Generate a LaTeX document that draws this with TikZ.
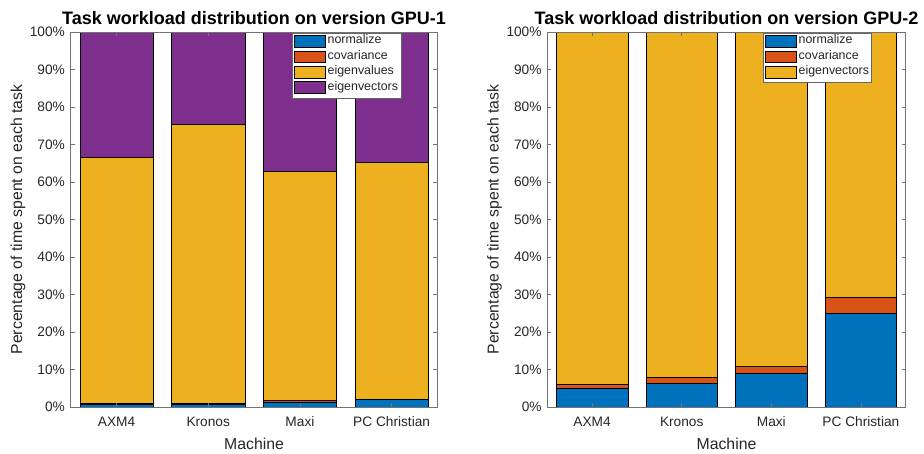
\documentclass[tikz,border=0pt]{standalone}
\usepackage{fontspec}
\setmainfont{Liberation Sans}
\definecolor{mblue}{rgb}{0,0.447,0.741}
\definecolor{morange}{rgb}{0.85,0.325,0.098}
\definecolor{myellow}{rgb}{0.929,0.694,0.125}
\definecolor{mpurple}{rgb}{0.494,0.184,0.556}
\definecolor{axgray}{rgb}{0.15,0.15,0.15}
\tikzset{
  bar/.style={draw=black,line width=0.5pt},
  axframe/.style={draw=black!55,line width=0.6pt},
  ticklab/.style={text=axgray,inner sep=0pt,font=\fontsize{13.7}{15}\selectfont},
  axlab/.style={text=axgray,inner sep=0pt,font=\fontsize{15.8}{17}\selectfont},
  plottitle/.style={text=black,inner sep=0pt,font=\fontsize{18}{20}\selectfont\bfseries},
  legbox/.style={draw=black!60,fill=white,line width=0.5pt},
  legtext/.style={text=axgray,inner sep=0pt,anchor=mid west,font=\fontsize{12.4}{14}\selectfont}
}
\begin{document}
\begin{tikzpicture}[x=1pt,y=-1pt]
\useasboundingbox (0,0) rectangle (924,453);

% GPU-1
\begin{scope}[shift={(24.85,407)},xscale=91.7,yscale=-3.75]
\foreach \i/\n/\c/\e in {1/0.7/0.9/66.5,2/0.7/0.9/75.4,3/1.2/1.7/63.0,4/2.0/2.2/65.3}{
  \draw[bar,fill=mblue] (\i-0.4,0) rectangle (\i+0.4,\n);
  \draw[bar,fill=morange] (\i-0.4,\n) rectangle (\i+0.4,\c);
  \draw[bar,fill=myellow] (\i-0.4,\c) rectangle (\i+0.4,\e);
  \draw[bar,fill=mpurple] (\i-0.4,\e) rectangle (\i+0.4,100);
}
\draw[axframe] (0.5,0) rectangle (4.5,100);
\foreach \y in {0,10,...,100}{
  \draw[axframe] (0.5,\y) -- (0.545,\y);
  \draw[axframe] (4.5,\y) -- (4.455,\y);
  \node[ticklab,anchor=east] (yt1-\y) at (0.438,\y) {\y\%};
}
\foreach \i/\m in {1/AXM4,2/Kronos,3/Maxi,4/PC Christian}{
  \draw[axframe] (\i,0) -- (\i,1.07);
  \draw[axframe] (\i,100) -- (\i,98.93);
  \node[ticklab,anchor=base] (xt1-\i) at (\i,-5.2) {\m};
}
\node[axlab,anchor=base] (xlab1) at (2.5,-11.2) {Machine};
\node[axlab,rotate=90] (ylab1) at (-0.075,50) {Percentage of time spent on each task};
\node[plottitle,anchor=base] (title1) at (2.5,102.1) {Task workload distribution on version GPU-1};
\end{scope}

% GPU-2
\begin{scope}[shift={(502.5,407)},xscale=89.6,yscale=-3.75]
\foreach \i/\n/\c in {1/5.0/6.1,2/6.3/8.0,3/9.1/11.0,4/25.0/29.3}{
  \draw[bar,fill=mblue] (\i-0.4,0) rectangle (\i+0.4,\n);
  \draw[bar,fill=morange] (\i-0.4,\n) rectangle (\i+0.4,\c);
  \draw[bar,fill=myellow] (\i-0.4,\c) rectangle (\i+0.4,100);
}
\draw[axframe] (0.5,0) rectangle (4.5,100);
\foreach \y in {0,10,...,100}{
  \draw[axframe] (0.5,\y) -- (0.545,\y);
  \draw[axframe] (4.5,\y) -- (4.455,\y);
  \node[ticklab,anchor=east] (yt2-\y) at (0.438,\y) {\y\%};
}
\foreach \i/\m in {1/AXM4,2/Kronos,3/Maxi,4/PC Christian}{
  \draw[axframe] (\i,0) -- (\i,1.07);
  \draw[axframe] (\i,100) -- (\i,98.93);
  \node[ticklab,anchor=base] (xt2-\i) at (\i,-5.2) {\m};
}
\node[axlab,anchor=base] (xlab2) at (2.5,-11.2) {Machine};
\node[axlab,rotate=90] (ylab2) at (-0.088,50) {Percentage of time spent on each task};
\node[plottitle,anchor=base] (title2) at (2.5,102.1) {Task workload distribution on version GPU-2};
\end{scope}

% legends
\draw[legbox] (292.3,33) rectangle (401.7,98);
\foreach \r/\col/\t in {41.3/mblue/normalize,56.7/morange/covariance,72/myellow/eigenvalues,87.4/mpurple/eigenvectors}{
  \draw[bar,fill=\col] (294.5,\r-5.8) rectangle (325.5,\r+5.8);
  \node[legtext] (leg1-\t) at (327.5,\r) {\t};
}
\draw[legbox] (763.3,33) rectangle (871.7,82.3);
\foreach \r/\col/\t in {41.3/mblue/normalize,56.7/morange/covariance,72/myellow/eigenvectors}{
  \draw[bar,fill=\col] (765.5,\r-5.8) rectangle (796.5,\r+5.8);
  \node[legtext] (leg2-\t) at (798.5,\r) {\t};
}
\end{tikzpicture}
\end{document}
